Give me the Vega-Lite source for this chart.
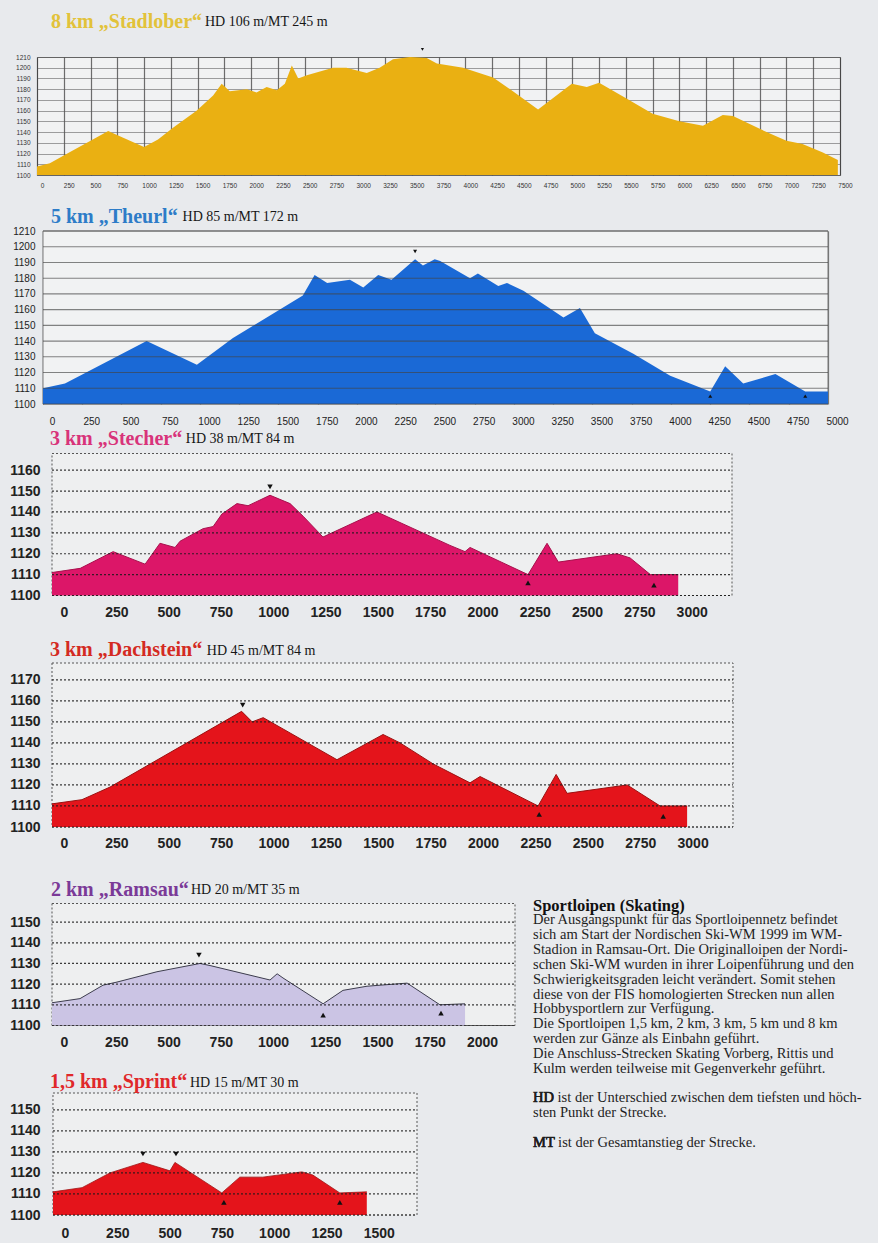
{
 "$schema": "https://vega.github.io/schema/vega-lite/v6.json",
 "background": "#e8eaed",
 "padding": {"left": 9, "top": 11, "right": 5, "bottom": 3},
 "config": {
  "font": "Liberation Sans",
  "title": {"anchor": "start", "frame": "group", "font": "Liberation Serif", "fontSize": 20, "fontWeight": "bold", "subtitleFont": "Liberation Serif", "subtitleFontSize": 14, "subtitleFontWeight": "normal", "subtitleColor": "#161616", "subtitlePadding": -16.5},
  "axis": {"ticks": false, "tickSize": 0, "domain": false, "labelFlush": false, "labelOverlap": false, "labelBound": false, "labelFont": "Liberation Sans", "zindex": 1}
 },
 "datasets": {
  "s1": [{"d":0,"e":1108},{"d":120,"e":1111},{"d":300,"e":1121},{"d":500,"e":1132},{"d":665,"e":1141},{"d":800,"e":1135},{"d":1000,"e":1126},{"d":1130,"e":1133},{"d":1270,"e":1144},{"d":1490,"e":1160},{"d":1645,"e":1174},{"d":1725,"e":1185},{"d":1800,"e":1178},{"d":1960,"e":1180},{"d":2050,"e":1177},{"d":2145,"e":1182},{"d":2240,"e":1179},{"d":2315,"e":1185},{"d":2380,"e":1202},{"d":2440,"e":1190},{"d":2520,"e":1193},{"d":2765,"e":1200},{"d":2890,"e":1200},{"d":3080,"e":1195},{"d":3200,"e":1200},{"d":3325,"e":1208},{"d":3485,"e":1210},{"d":3640,"e":1209},{"d":3735,"e":1204},{"d":3980,"e":1200},{"d":4260,"e":1191},{"d":4445,"e":1178},{"d":4680,"e":1161},{"d":4995,"e":1185},{"d":5135,"e":1182},{"d":5250,"e":1186},{"d":5510,"e":1171},{"d":5750,"e":1157},{"d":6000,"e":1150},{"d":6220,"e":1146},{"d":6405,"e":1156},{"d":6500,"e":1155},{"d":6750,"e":1143},{"d":7000,"e":1132},{"d":7150,"e":1129},{"d":7340,"e":1121},{"d":7480,"e":1114}],
  "s2": [{"d":0,"e":1110},{"d":140,"e":1113},{"d":660,"e":1140},{"d":980,"e":1125},{"d":1210,"e":1142},{"d":1425,"e":1155},{"d":1655,"e":1169},{"d":1730,"e":1182},{"d":1810,"e":1177},{"d":1955,"e":1179},{"d":2040,"e":1174},{"d":2135,"e":1182},{"d":2220,"e":1179},{"d":2370,"e":1192},{"d":2420,"e":1188},{"d":2495,"e":1192},{"d":2530,"e":1191},{"d":2720,"e":1180},{"d":2770,"e":1183},{"d":2900,"e":1175},{"d":2955,"e":1177},{"d":3060,"e":1172},{"d":3315,"e":1155},{"d":3420,"e":1161},{"d":3515,"e":1145},{"d":3760,"e":1132},{"d":3995,"e":1118},{"d":4250,"e":1108},{"d":4345,"e":1124},{"d":4460,"e":1113},{"d":4665,"e":1119},{"d":4855,"e":1108},{"d":5000,"e":1108}],
  "s3": [{"d":0,"e":1111},{"d":135,"e":1113},{"d":292,"e":1121},{"d":445,"e":1115},{"d":516,"e":1125},{"d":588,"e":1123},{"d":612,"e":1126},{"d":722,"e":1132},{"d":770,"e":1133},{"d":812,"e":1139},{"d":884,"e":1144},{"d":937,"e":1143},{"d":1042,"e":1148},{"d":1138,"e":1144},{"d":1200,"e":1138},{"d":1295,"e":1128},{"d":1553,"e":1140},{"d":1902,"e":1124},{"d":1974,"e":1121},{"d":1998,"e":1123},{"d":2275,"e":1110},{"d":2366,"e":1125},{"d":2420,"e":1116},{"d":2700,"e":1120},{"d":2763,"e":1118},{"d":2860,"e":1110},{"d":2993,"e":1110}],
  "s4": [{"d":0,"e":1111},{"d":143,"e":1113},{"d":277,"e":1119},{"d":905,"e":1155},{"d":955,"e":1150},{"d":1008,"e":1152},{"d":1360,"e":1132},{"d":1580,"e":1144},{"d":1661,"e":1140},{"d":1819,"e":1130},{"d":1995,"e":1121},{"d":2043,"e":1124},{"d":2320,"e":1110},{"d":2406,"e":1125},{"d":2458,"e":1116},{"d":2745,"e":1120},{"d":2902,"e":1110},{"d":3031,"e":1110}],
  "s5": [{"d":0,"e":1111},{"d":134,"e":1113},{"d":244,"e":1119.5},{"d":311,"e":1121},{"d":502,"e":1126},{"d":708,"e":1130},{"d":756,"e":1129},{"d":1043,"e":1122},{"d":1077,"e":1125},{"d":1105,"e":1123},{"d":1297,"e":1110.5},{"d":1392,"e":1117},{"d":1507,"e":1119},{"d":1699,"e":1120.5},{"d":1856,"e":1110},{"d":1976,"e":1110.5}],
  "s6": [{"d":0,"e":1111},{"d":139,"e":1113},{"d":272,"e":1120},{"d":430,"e":1125},{"d":559,"e":1121},{"d":583,"e":1125},{"d":807,"e":1110.5},{"d":893,"e":1118},{"d":1003,"e":1118},{"d":1190,"e":1120.5},{"d":1242,"e":1119},{"d":1371,"e":1110.5},{"d":1500,"e":1111}],
  "mk": [{"p":1,"d":3600,"e":1217,"dir":"down"},{"p":2,"d":2370,"e":1197,"dir":"down"},{"p":2,"d":4250,"e":1105,"dir":"up"},{"p":2,"d":4855,"e":1105,"dir":"up"},{"p":3,"d":1042,"e":1152,"dir":"down"},{"p":3,"d":2275,"e":1106,"dir":"up"},{"p":3,"d":2877,"e":1105,"dir":"up"},{"p":4,"d":910,"e":1158,"dir":"down"},{"p":4,"d":2325,"e":1106,"dir":"up"},{"p":4,"d":2917,"e":1105,"dir":"up"},{"p":5,"d":703,"e":1134,"dir":"down"},{"p":5,"d":1297,"e":1105,"dir":"up"},{"p":5,"d":1861,"e":1106,"dir":"up"},{"p":6,"d":430,"e":1129,"dir":"down"},{"p":6,"d":588,"e":1129,"dir":"down"},{"p":6,"d":817,"e":1106,"dir":"up"},{"p":6,"d":1371,"e":1106,"dir":"up"}],
  "hg": [{"p":2,"v":1100},{"p":2,"v":1110},{"p":2,"v":1120},{"p":2,"v":1130},{"p":2,"v":1140},{"p":2,"v":1150},{"p":2,"v":1160},{"p":2,"v":1170},{"p":2,"v":1180},{"p":2,"v":1190},{"p":2,"v":1200},{"p":2,"v":1210},
         {"p":3,"v":1100},{"p":3,"v":1110},{"p":3,"v":1120},{"p":3,"v":1130},{"p":3,"v":1140},{"p":3,"v":1150},{"p":3,"v":1160},
         {"p":4,"v":1100},{"p":4,"v":1110},{"p":4,"v":1120},{"p":4,"v":1130},{"p":4,"v":1140},{"p":4,"v":1150},{"p":4,"v":1160},{"p":4,"v":1170},
         {"p":5,"v":1100},{"p":5,"v":1110},{"p":5,"v":1120},{"p":5,"v":1130},{"p":5,"v":1140},{"p":5,"v":1150},
         {"p":6,"v":1100},{"p":6,"v":1110},{"p":6,"v":1120},{"p":6,"v":1130},{"p":6,"v":1140},{"p":6,"v":1150}],
  "txt": [
   {"ln":0,"t":"Sportloipen (Skating)","k":"h"},
   {"ln":1,"t":"Der Ausgangspunkt für das Sportloipennetz befindet","k":"b"},
   {"ln":2,"t":"sich am Start der Nordischen Ski-WM 1999 im WM-","k":"b"},
   {"ln":3,"t":"Stadion in Ramsau-Ort. Die Originalloipen der Nordi-","k":"b"},
   {"ln":4,"t":"schen Ski-WM wurden in ihrer Loipenführung und den","k":"b"},
   {"ln":5,"t":"Schwierigkeitsgraden leicht verändert. Somit stehen","k":"b"},
   {"ln":6,"t":"diese von der FIS homologierten Strecken nun allen","k":"b"},
   {"ln":7,"t":"Hobbysportlern zur Verfügung.","k":"b"},
   {"ln":8,"t":"Die Sportloipen 1,5 km, 2 km, 3 km, 5 km und 8 km","k":"b"},
   {"ln":9,"t":"werden zur Gänze als Einbahn geführt.","k":"b"},
   {"ln":10,"t":"Die Anschluss-Strecken Skating Vorberg, Rittis und","k":"b"},
   {"ln":11,"t":"Kulm werden teilweise mit Gegenverkehr geführt.","k":"b"},
   {"ln":13,"t":"HD ist der Unterschied zwischen dem tiefsten und höch-","k":"b","bp":"HD"},
   {"ln":14,"t":"sten Punkt der Strecke.","k":"b"},
   {"ln":16,"t":"MT ist der Gesamtanstieg der Strecke.","k":"b","bp":"MT"}
  ]
 },
 "spacing": 16,
 "vconcat": [
  {
   "width": 803, "height": 118,
   "title": {"text": "8 km „Stadlober“", "subtitle": "\u200B\u2003\u2003\u2003\u2003\u2003\u2003\u2003\u2003\u2003\u2003\u2003HD 106 m/MT 245 m", "color": "#e2c23a", "dx": 14, "offset": 16.5},
   "view": {"fill": "#f1f2f3", "stroke": "#777", "strokeWidth": 1},
   "layer": [
    {"data": {"name": "s1"}, "mark": {"type": "area", "color": "#eab012", "opacity": 1},
     "encoding": {
      "x": {"field": "d", "type": "quantitative", "scale": {"domain": [0, 7500], "nice": false, "zero": false}, "axis": {"values": [0,250,500,750,1000,1250,1500,1750,2000,2250,2500,2750,3000,3250,3500,3750,4000,4250,4500,4750,5000,5250,5500,5750,6000,6250,6500,6750,7000,7250,7500], "tickCount": 200, "format": "d", "title": null, "labelOverlap": false, "labelFlush": false, "labelFontSize": 6.5, "labelColor": "#333", "labelPadding": 7.75, "labelOffset": 5, "grid": true, "gridColor": "#333", "gridOpacity": 0.7, "gridWidth": 1.2}},
      "y": {"field": "e", "type": "quantitative", "scale": {"domain": [1100, 1210], "nice": false, "zero": false}, "axis": {"values": [1100,1110,1120,1130,1140,1150,1160,1170,1180,1190,1200,1210], "tickCount": 200, "format": "d", "title": null, "labelOverlap": false, "labelFlush": false, "labelFontSize": 6.5, "labelColor": "#333", "labelPadding": 7, "grid": true, "gridColor": "#555", "gridOpacity": 0.55, "gridWidth": 1}},
      "y2": {"datum": 1100}
     }},
    {"data": {"name": "mk"}, "transform": [{"filter": "datum.p == 1"}], "mark": {"type": "point", "filled": true, "color": "#111", "size": 10, "opacity": 1},
     "encoding": {"x": {"field": "d", "type": "quantitative"}, "y": {"field": "e", "type": "quantitative"}, "shape": {"field": "dir", "type": "nominal", "scale": {"domain": ["down", "up"], "range": ["triangle-down", "triangle-up"]}, "legend": null}}}
   ]
  },
  {
   "spacing": 2.5,
   "vconcat": [
    {
     "width": 791, "height": 173,
     "title": {"text": "5 km „Theurl“", "subtitle": "\u200B\u2003\u2003\u2003\u2003\u2003\u2003\u2003\u2003\u2003\u2009\u2009HD 85 m/MT 172 m", "color": "#2d7cc8", "dx": 14, "offset": -0.5},
     "view": {"fill": null, "stroke": null},
     "layer": [
      {"data": {"values": [{}]}, "mark": {"type": "rect", "fill": "#f1f2f3", "stroke": "#777", "strokeWidth": 1},
       "encoding": {
        "x": {"datum": 0, "type": "quantitative", "scale": {"domain": [-38.2, 5000], "nice": false, "zero": false}, "axis": {"values": [0,250,500,750,1000,1250,1500,1750,2000,2250,2500,2750,3000,3250,3500,3750,4000,4250,4500,4750,5000], "tickCount": 200, "format": "d", "title": null, "labelOverlap": false, "labelFlush": false, "labelFontSize": 10, "labelColor": "#222", "labelPadding": 12, "labelOffset": 9, "grid": true, "gridColor": "#444", "gridOpacity": 0.7, "gridWidth": 1.2}},
        "x2": {"datum": 5000},
        "y": {"datum": 1100, "type": "quantitative", "scale": {"domain": [1100, 1210], "nice": false, "zero": false}, "axis": {"values": [1100,1110,1120,1130,1140,1150,1160,1170,1180,1190,1200,1210], "tickCount": 200, "format": "d", "title": null, "labelOverlap": false, "labelFlush": false, "labelFontSize": 10, "labelColor": "#222", "labelPadding": 2, "grid": false}},
        "y2": {"datum": 1210}
       }},
      {"data": {"name": "s2"}, "mark": {"type": "area", "color": "#1a69d6", "opacity": 1},
       "encoding": {"x": {"field": "d", "type": "quantitative"}, "y": {"field": "e", "type": "quantitative"}, "y2": {"datum": 1100}}},
      {"data": {"name": "hg"}, "transform": [{"filter": "datum.p == 2"}], "mark": {"type": "rule", "color": "#444", "strokeWidth": 1.1, "opacity": 0.65},
       "encoding": {"y": {"field": "v", "type": "quantitative"}, "x": {"datum": 0}, "x2": {"datum": 5000}}},
      {"data": {"name": "mk"}, "transform": [{"filter": "datum.p == 2"}], "mark": {"type": "point", "filled": true, "color": "#111", "size": 16, "opacity": 1},
       "encoding": {"x": {"field": "d", "type": "quantitative"}, "y": {"field": "e", "type": "quantitative"}, "shape": {"field": "dir", "type": "nominal", "scale": {"domain": ["down", "up"], "range": ["triangle-down", "triangle-up"]}, "legend": null}}}
     ]
    },
    {
     "spacing": 20.5,
     "vconcat": [
      {
       "width": 695, "height": 142,
       "title": {"text": "3 km „Stecher“", "subtitle": "\u200B\u2003\u2003\u2003\u2003\u2003\u2003\u2003\u2003\u2003\u2002\u2009HD 38 m/MT 84 m", "color": "#d8337a", "dx": 13, "offset": 4.5},
       "view": {"fill": null, "stroke": null},
       "layer": [
        {"data": {"values": [{}]}, "mark": {"type": "rect", "fill": "#eeeff0", "stroke": "#555", "strokeDash": [2, 2], "strokeWidth": 1},
         "encoding": {
          "x": {"datum": 0, "type": "quantitative", "scale": {"domain": [-71.7, 3250], "nice": false, "zero": false}, "axis": {"values": [0,250,500,750,1000,1250,1500,1750,2000,2250,2500,2750,3000], "tickCount": 200, "format": "d", "title": null, "labelOverlap": false, "labelFlush": false, "labelFontSize": 14, "labelFontWeight": "bold", "labelColor": "#222", "labelPadding": 10, "labelOffset": 12, "grid": true, "gridColor": "#6a6a6a", "gridOpacity": 0.8, "gridWidth": 1}},
          "x2": {"datum": 3250},
          "y": {"datum": 1100, "type": "quantitative", "scale": {"domain": [1100, 1168], "nice": false, "zero": false}, "axis": {"values": [1100,1110,1120,1130,1140,1150,1160], "tickCount": 200, "format": "d", "title": null, "labelOverlap": false, "labelFlush": false, "labelFontSize": 14, "labelFontWeight": "bold", "labelColor": "#222", "labelPadding": -3, "grid": false}},
          "y2": {"datum": 1168}
         }},
        {"data": {"name": "s3"}, "mark": {"type": "area", "color": "#dc1668", "opacity": 1, "line": {"color": "#a8104c", "strokeWidth": 1}},
         "encoding": {"x": {"field": "d", "type": "quantitative"}, "y": {"field": "e", "type": "quantitative"}, "y2": {"datum": 1100}}},
        {"data": {"name": "hg"}, "transform": [{"filter": "datum.p == 3"}], "mark": {"type": "rule", "color": "#1a1a1a", "strokeDash": [2, 2], "strokeWidth": 1.2, "opacity": 0.85},
         "encoding": {"y": {"field": "v", "type": "quantitative"}, "x": {"datum": 0}, "x2": {"datum": 3250}}},
        {"data": {"name": "mk"}, "transform": [{"filter": "datum.p == 3"}], "mark": {"type": "point", "filled": true, "color": "#111", "size": 30, "opacity": 1},
         "encoding": {"x": {"field": "d", "type": "quantitative"}, "y": {"field": "e", "type": "quantitative"}, "shape": {"field": "dir", "type": "nominal", "scale": {"domain": ["down", "up"], "range": ["triangle-down", "triangle-up"]}, "legend": null}}}
       ]
      },
      {
       "spacing": 29.5,
       "vconcat": [
        {
         "width": 696, "height": 164,
         "title": {"text": "3 km „Dachstein“", "subtitle": "\u200B\u2003\u2003\u2003\u2003\u2003\u2003\u2003\u2003\u2003\u2003\u2003\u2009HD 45 m/MT 84 m", "color": "#d42a22", "dx": 13, "offset": 2.5},
         "view": {"fill": null, "stroke": null},
         "layer": [
          {"data": {"values": [{}]}, "mark": {"type": "rect", "fill": "#eeeff0", "stroke": "#555", "strokeDash": [2, 2], "strokeWidth": 1},
           "encoding": {
            "x": {"datum": 0, "type": "quantitative", "scale": {"domain": [-71.6, 3250], "nice": false, "zero": false}, "axis": {"values": [0,250,500,750,1000,1250,1500,1750,2000,2250,2500,2750,3000], "tickCount": 200, "format": "d", "title": null, "labelOverlap": false, "labelFlush": false, "labelFontSize": 14, "labelFontWeight": "bold", "labelColor": "#222", "labelPadding": 9, "labelOffset": 12, "grid": true, "gridColor": "#6a6a6a", "gridOpacity": 0.8, "gridWidth": 1}},
            "x2": {"datum": 3250},
            "y": {"datum": 1100, "type": "quantitative", "scale": {"domain": [1100, 1178], "nice": false, "zero": false}, "axis": {"values": [1100,1110,1120,1130,1140,1150,1160,1170], "tickCount": 200, "format": "d", "title": null, "labelOverlap": false, "labelFlush": false, "labelFontSize": 14, "labelFontWeight": "bold", "labelColor": "#222", "labelPadding": -3, "grid": false}},
            "y2": {"datum": 1178}
           }},
          {"data": {"name": "s4"}, "mark": {"type": "area", "color": "#e4141b", "opacity": 1, "line": {"color": "#9c1010", "strokeWidth": 1}},
           "encoding": {"x": {"field": "d", "type": "quantitative"}, "y": {"field": "e", "type": "quantitative"}, "y2": {"datum": 1100}}},
          {"data": {"name": "hg"}, "transform": [{"filter": "datum.p == 4"}], "mark": {"type": "rule", "color": "#1a1a1a", "strokeDash": [2, 2], "strokeWidth": 1.2, "opacity": 0.85},
           "encoding": {"y": {"field": "v", "type": "quantitative"}, "x": {"datum": 0}, "x2": {"datum": 3250}}},
          {"data": {"name": "mk"}, "transform": [{"filter": "datum.p == 4"}], "mark": {"type": "point", "filled": true, "color": "#111", "size": 30, "opacity": 1},
           "encoding": {"x": {"field": "d", "type": "quantitative"}, "y": {"field": "e", "type": "quantitative"}, "shape": {"field": "dir", "type": "nominal", "scale": {"domain": ["down", "up"], "range": ["triangle-down", "triangle-up"]}, "legend": null}}}
         ]
        },
        {
         "spacing": 17,
         "hconcat": [
          {
           "spacing": 22.5,
           "vconcat": [
            {
             "width": 478, "height": 122,
             "title": {"text": "2 km „Ramsau“", "subtitle": "\u200B\u2003\u2003\u2003\u2003\u2003\u2003\u2003\u2003\u2003\u2009\u2009\u2009\u2009\u2009HD 20 m/MT 35 m", "color": "#7b3a98", "dx": 14, "offset": 3.5},
             "view": {"fill": null, "stroke": null},
             "layer": [
              {"data": {"values": [{}]}, "mark": {"type": "rect", "fill": "#eeeff0", "stroke": "#555", "strokeDash": [2, 2], "strokeWidth": 1},
               "encoding": {
                "x": {"datum": 0, "type": "quantitative", "scale": {"domain": [-71.8, 2215], "nice": false, "zero": false}, "axis": {"values": [0,250,500,750,1000,1250,1500,1750,2000], "tickCount": 200, "format": "d", "title": null, "labelOverlap": false, "labelFlush": false, "labelFontSize": 14, "labelFontWeight": "bold", "labelColor": "#222", "labelPadding": 10, "labelOffset": 12, "grid": true, "gridColor": "#6a6a6a", "gridOpacity": 0.8, "gridWidth": 1}},
                "x2": {"datum": 2215},
                "y": {"datum": 1100, "type": "quantitative", "scale": {"domain": [1100, 1159], "nice": false, "zero": false}, "axis": {"values": [1100,1110,1120,1130,1140,1150], "tickCount": 200, "format": "d", "title": null, "labelOverlap": false, "labelFlush": false, "labelFontSize": 14, "labelFontWeight": "bold", "labelColor": "#222", "labelPadding": -3, "grid": false}},
                "y2": {"datum": 1159}
               }},
              {"data": {"name": "s5"}, "mark": {"type": "area", "color": "#cbc4e4", "opacity": 1, "line": {"color": "#3d3d4d", "strokeWidth": 1}},
               "encoding": {"x": {"field": "d", "type": "quantitative"}, "y": {"field": "e", "type": "quantitative"}, "y2": {"datum": 1100}}},
              {"data": {"name": "hg"}, "transform": [{"filter": "datum.p == 5"}], "mark": {"type": "rule", "color": "#1a1a1a", "strokeDash": [2, 2], "strokeWidth": 1.2, "opacity": 0.85},
               "encoding": {"y": {"field": "v", "type": "quantitative"}, "x": {"datum": 0}, "x2": {"datum": 2215}}},
              {"data": {"name": "mk"}, "transform": [{"filter": "datum.p == 5"}], "mark": {"type": "point", "filled": true, "color": "#111", "size": 30, "opacity": 1},
               "encoding": {"x": {"field": "d", "type": "quantitative"}, "y": {"field": "e", "type": "quantitative"}, "shape": {"field": "dir", "type": "nominal", "scale": {"domain": ["down", "up"], "range": ["triangle-down", "triangle-up"]}, "legend": null}}}
             ]
            },
            {
             "width": 380, "height": 122,
             "title": {"text": "1,5 km „Sprint“", "subtitle": "\u200B\u2003\u2003\u2003\u2003\u2003\u2003\u2003\u2003\u2003\u2009\u2009\u2009\u2009\u2009HD 15 m/MT 30 m", "color": "#e0282a", "dx": 13, "offset": 0.5},
             "view": {"fill": null, "stroke": null},
             "layer": [
              {"data": {"values": [{}]}, "mark": {"type": "rect", "fill": "#eeeff0", "stroke": "#555", "strokeDash": [2, 2], "strokeWidth": 1},
               "encoding": {
                "x": {"datum": 0, "type": "quantitative", "scale": {"domain": [-76.4, 1740], "nice": false, "zero": false}, "axis": {"values": [0,250,500,750,1000,1250,1500], "tickCount": 200, "format": "d", "title": null, "labelOverlap": false, "labelFlush": false, "labelFontSize": 14, "labelFontWeight": "bold", "labelColor": "#222", "labelPadding": 11, "labelOffset": 12, "grid": true, "gridColor": "#6a6a6a", "gridOpacity": 0.8, "gridWidth": 1}},
                "x2": {"datum": 1740},
                "y": {"datum": 1100, "type": "quantitative", "scale": {"domain": [1100, 1158], "nice": false, "zero": false}, "axis": {"values": [1100,1110,1120,1130,1140,1150], "tickCount": 200, "format": "d", "title": null, "labelOverlap": false, "labelFlush": false, "labelFontSize": 14, "labelFontWeight": "bold", "labelColor": "#222", "labelPadding": -3, "grid": false}},
                "y2": {"datum": 1158}
               }},
              {"data": {"name": "s6"}, "mark": {"type": "area", "color": "#e4141b", "opacity": 1, "line": {"color": "#a01010", "strokeWidth": 0.8}},
               "encoding": {"x": {"field": "d", "type": "quantitative"}, "y": {"field": "e", "type": "quantitative"}, "y2": {"datum": 1100}}},
              {"data": {"name": "hg"}, "transform": [{"filter": "datum.p == 6"}], "mark": {"type": "rule", "color": "#1a1a1a", "strokeDash": [2, 2], "strokeWidth": 1.2, "opacity": 0.85},
               "encoding": {"y": {"field": "v", "type": "quantitative"}, "x": {"datum": 0}, "x2": {"datum": 1740}}},
              {"data": {"name": "mk"}, "transform": [{"filter": "datum.p == 6"}], "mark": {"type": "point", "filled": true, "color": "#111", "size": 30, "opacity": 1},
               "encoding": {"x": {"field": "d", "type": "quantitative"}, "y": {"field": "e", "type": "quantitative"}, "shape": {"field": "dir", "type": "nominal", "scale": {"domain": ["down", "up"], "range": ["triangle-down", "triangle-up"]}, "legend": null}}}
             ]
            }
           ]
          },
          {
           "width": 340, "height": 290,
           "view": {"stroke": null, "fill": null},
           "data": {"name": "txt"},
           "encoding": {
            "x": {"datum": 0, "type": "quantitative", "scale": {"domain": [0, 1]}, "axis": null},
            "y": {"field": "ln", "type": "quantitative", "scale": {"domain": [-0.135, 19.4], "reverse": true, "nice": false, "zero": false}, "axis": null},
            "text": {"field": "t"}
           },
           "layer": [
            {"transform": [{"filter": "datum.k == 'b'"}], "mark": {"type": "text", "align": "left", "baseline": "middle", "font": "Liberation Serif", "fontSize": 14.5, "color": "#1e1e1e"}},
            {"transform": [{"filter": "datum.k == 'h'"}], "mark": {"type": "text", "align": "left", "baseline": "middle", "font": "Liberation Serif", "fontSize": 16.5, "fontWeight": "bold", "color": "#111"}},
            {"transform": [{"filter": "isValid(datum.bp)"}], "mark": {"type": "text", "align": "left", "baseline": "middle", "font": "Liberation Serif", "fontSize": 14.5, "color": "#1e1e1e", "stroke": "#1e1e1e", "strokeWidth": 0.6}, "encoding": {"text": {"field": "bp"}}}
           ]
          }
         ]
        }
       ]
      }
     ]
    }
   ]
  }
 ]
}
